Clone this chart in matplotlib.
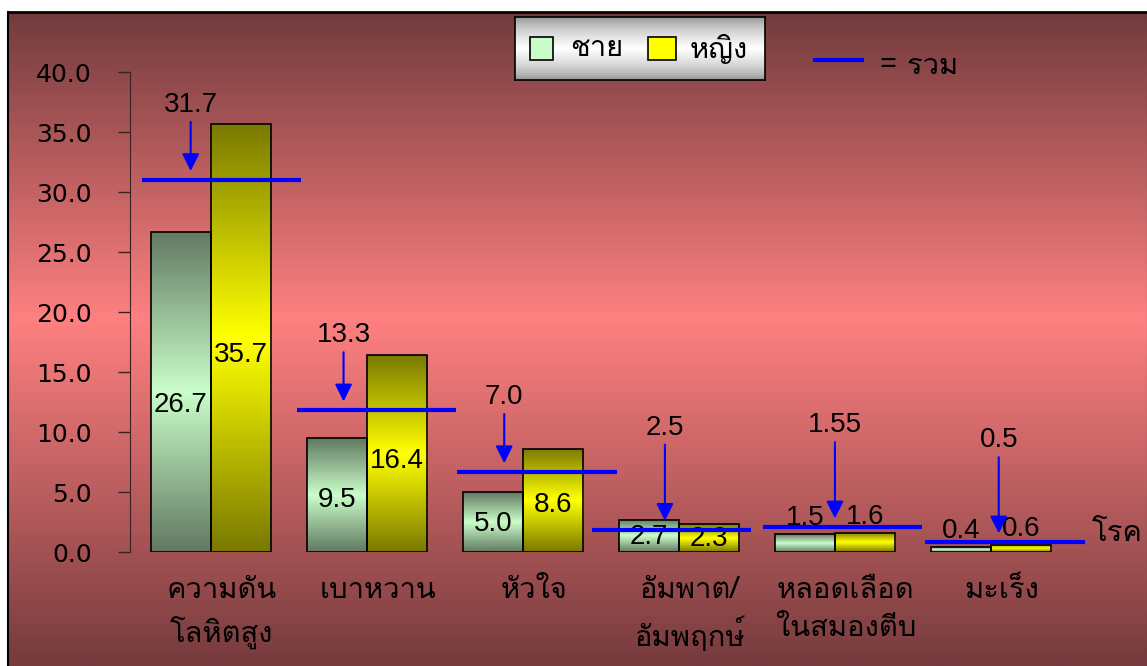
import numpy as np
import matplotlib
matplotlib.use('Agg')
import matplotlib.pyplot as plt
from matplotlib import font_manager
from matplotlib.ft2font import FT2Font
from matplotlib.colors import LinearSegmentedColormap
from matplotlib.patches import Rectangle
from matplotlib.lines import Line2D

# data
categories = ['ความดัน\nโลหิตสูง', 'เบาหวาน', 'หัวใจ', 'อัมพาต/\nอัมพฤกษ์', 'หลอดเลือด\nในสมองตีบ', 'มะเร็ง']
men = [26.7, 9.5, 5.0, 2.7, 1.5, 0.4]
women = [35.7, 16.4, 8.6, 2.3, 1.6, 0.6]
totals = [31.7, 13.3, 7.0, 2.5, 1.55, 0.5]
total_lines = [31.0, 11.8, 6.65, 1.85, 2.05, 0.8]   # where the blue bars are drawn
yticks = np.arange(0, 45, 5)

# layout nudges (group units)
arrow_dx = [-0.13, -0.15, -0.12, -0.09, 0.0, 0.05]
line_dx = [0.07, 0.06, 0.09, -0.05, 0.05, 0.09]


def find_thai():
    for f in font_manager.fontManager.ttflist:
        try:
            if 0x0E01 in FT2Font(f.fname).get_charmap():
                return f.name
        except Exception:
            pass
    return None

thai = find_thai()
fam = [thai, 'DejaVu Sans'] if thai else ['DejaVu Sans']
plt.rcParams['font.family'] = fam

W, H = 1147, 666
fig = plt.figure(figsize=(W / 100, H / 100), dpi=100, facecolor='white')

# background gradient
bg = fig.add_axes([8 / W, 0, 1 - 8 / W, (H - 12) / H], zorder=0)
rows = np.linspace(0, 1, 300)
bgcm = LinearSegmentedColormap.from_list('bg', [(0, '#733b3d'), (0.47, '#ff8080'), (1, '#763b3d')])
bg.imshow(rows[:, None], cmap=bgcm, aspect='auto', extent=[0, 1, 0, 1], origin='upper')
bg.set_xticks([]); bg.set_yticks([])
for s in ['bottom']:
    bg.spines[s].set_visible(False)
bg.spines['left'].set_linewidth(1.5)
bg.spines['top'].set_linewidth(2)
bg.spines['right'].set_color('#5a2a2c')

ax = fig.add_axes([130 / W, 114 / H, (1090 - 130) / W, 480 / H], zorder=2)
ax.patch.set_alpha(0)
x = np.arange(len(categories))
w = 0.385
xl = (-0.519, 5.635)


def grad_bars(bars, dark, light):
    cm = LinearSegmentedColormap.from_list('g', [dark, light])
    t = np.linspace(0, 1, 100)
    g = 1 - np.abs(2 * t - 1)
    for r in bars:
        x0, y0, bw, bh = r.get_x(), r.get_y(), r.get_width(), r.get_height()
        im = ax.imshow(g[:, None], cmap=cm, aspect='auto', extent=[x0, x0 + bw, y0, y0 + bh],
                       origin='lower', zorder=1)
        im.set_clip_path(r)
        r.set_facecolor('none')


b1 = ax.bar(x - w / 2, men, w, edgecolor='black', linewidth=1.2, zorder=2)
b2 = ax.bar(x + w / 2, women, w, edgecolor='black', linewidth=1.2, zorder=2)
grad_bars(b1, '#627a62', '#c8fcc8')
grad_bars(b2, '#7a7a00', '#ffff00')

blue = '#0000ff'
for i in range(len(x)):
    c = x[i] + line_dx[i]
    ax.plot([c - 0.51, c + 0.51], [total_lines[i]] * 2, color=blue, lw=3, zorder=3,
            solid_capstyle='butt')
    lab_y = total_lines[i] + (6.25 if total_lines[i] > 5 else 8.5)
    ax_x = x[i] + arrow_dx[i]
    ax.annotate('', xy=(ax_x, total_lines[i] + 0.75), xytext=(ax_x, lab_y - 1.4),
                arrowprops=dict(arrowstyle='-|>', color=blue, lw=1.5, mutation_scale=26,
                                shrinkA=0, shrinkB=0), zorder=4)
    s = '%.2f' % totals[i] if round(totals[i], 1) != totals[i] else '%.1f' % totals[i]
    ax.text(ax_x, lab_y, s, ha='center', va='center', fontsize=20,
            family='Liberation Sans', zorder=4)

for bars, vals in [(b1, men), (b2, women)]:
    for r, v in zip(bars, vals):
        cx = r.get_x() + r.get_width() / 2
        if v >= 2:
            ax.text(cx, v * 0.46, '%.1f' % v, ha='center', va='center', fontsize=20,
                    family='Liberation Sans', zorder=2.5)
        else:
            ax.text(cx, v + 0.25, '%.1f' % v, ha='center', va='bottom', fontsize=20,
                    family='Liberation Sans', zorder=2.5)

ax.set_xlim(*xl)
ax.set_ylim(0, 40)
ax.set_yticks(yticks)
ax.set_yticklabels(['%.1f' % v for v in yticks], family='DejaVu Sans', fontsize=18)
ax.tick_params(axis='y', direction='out', length=8.6, pad=19, color='#3a2222', width=1)
ax.set_xticks(x + 0.07)
ax.set_xticklabels(categories, fontsize=21, linespacing=1.45)
ax.tick_params(axis='x', length=0, pad=17)
for s in ['top', 'right', 'bottom']:
    ax.spines[s].set_visible(False)
ax.spines['left'].set_color('#3a2222')
ax.text(5.81, 1.6, 'โรค', fontsize=21, ha='center', va='center', clip_on=False)

# legend box
lg = fig.add_axes([515 / W, 1 - 80 / H, 250 / W, 63 / H], zorder=3)
lg.imshow((1 - np.abs(2 * rows - 1))[:, None] ** 0.6,
          cmap=LinearSegmentedColormap.from_list('m', ['#8a8a8a', '#ffffff']),
          aspect='auto', extent=[0, 1, 0, 1])
lg.set_xlim(0, 1); lg.set_ylim(0, 1)
lg.set_xticks([]); lg.set_yticks([])
for s in lg.spines.values():
    s.set_linewidth(1.2)
lg.add_patch(Rectangle((15 / 250, 0.32), 23 / 250, 0.36, facecolor='#c8fcc8', edgecolor='black', lw=1.2))
lg.text(55 / 250, 0.5, 'ชาย', fontsize=21, va='center')
lg.add_patch(Rectangle((133 / 250, 0.32), 28 / 250, 0.36, facecolor='#ffff00', edgecolor='black', lw=1.2))
lg.text(175 / 250, 0.5, 'หญิง', fontsize=21, va='center')

fig.add_artist(Line2D([815 / W, 862 / W], [1 - 60 / H] * 2, color=blue, lw=3, zorder=4))
fig.text(880 / W, 1 - 66 / H, '= รวม', fontsize=21, va='center', zorder=4)

fig.savefig('out.png', dpi=100, facecolor='white')
